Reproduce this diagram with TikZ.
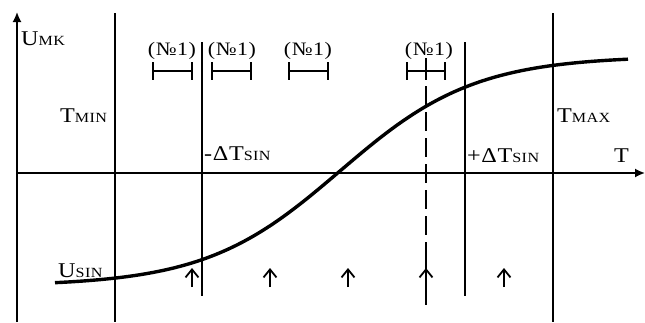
\documentclass[tikz,border=0pt]{standalone}
\usepackage{fontspec}
\setmainfont{Liberation Serif}[FakeStretch=1.15,LetterSpace=3]
\usetikzlibrary{arrows.meta}
\newcommand{\capsm}[2]{{\fontsize{21}{21}\selectfont #1}{\fontsize{14}{14}\selectfont #2}}
\begin{document}
\begin{tikzpicture}[x=1pt,y=-1pt,
  axis/.style={line width=1.7pt,-{Latex[length=10pt,width=9pt]}},
  vline/.style={line width=1.7pt},
  dline/.style={line width=1.7pt,dash pattern=on 19pt off 7pt},
  bracket/.style={line width=2.2pt},
  curve/.style={line width=3.4pt},
  uparrow/.style={line width=1.8pt,-{Straight Barb[length=8pt,width=13pt,line width=1.8pt]}},
  lbl/.style={inner sep=0pt,anchor=base west},
  numlbl/.style={inner sep=0pt,anchor=base,font=\fontsize{19}{19}\selectfont}]
\useasboundingbox (0,0) rectangle (645,322);
% axes
\coordinate (yb) at (17,322);
\coordinate (yt) at (17,12);
\coordinate (xl) at (17,173);
\coordinate (xr) at (645,173);
\draw[axis] (yb) -- (yt);
\draw[axis] (xl) -- (xr);
% vertical lines
\coordinate (tmin1) at (115,13);
\coordinate (tmin2) at (115,322);
\coordinate (dm1) at (202,42);
\coordinate (dm2) at (202,296);
\coordinate (dp1) at (465,42);
\coordinate (dp2) at (465,296);
\coordinate (tmax1) at (553,13);
\coordinate (tmax2) at (553,322);
\draw[vline] (tmin1) -- (tmin2);
\draw[vline] (dm1) -- (dm2);
\draw[vline] (dp1) -- (dp2);
\draw[vline] (tmax1) -- (tmax2);
% dashed line
\coordinate (ds1) at (426,86);
\coordinate (ds2) at (426,258);
\coordinate (ds3) at (426,305);
\draw[dline] (ds1) -- (ds2);
\draw[vline] (ds2) -- (ds3);
% curve
\draw[curve] plot[domain=55:628,samples=120,smooth] (\x,{171-115*tanh((\x-340)/135)});
% brackets
\draw[bracket] (153,62) -- (153,80) (153,71) -- (192,71) (192,62) -- (192,80);
\draw[bracket] (212,62) -- (212,80) (212,71) -- (251,71) (251,62) -- (251,80);
\draw[bracket] (289,62) -- (289,80) (289,71) -- (328,71) (328,62) -- (328,80);
\draw[bracket] (407,62) -- (407,80) (407,71) -- (445,71) (445,62) -- (445,80);
\draw[bracket] (426,58) -- (426,80);
% bracket labels
\node[numlbl] (n1) at (172,55) {(№1)};
\node[numlbl] (n2) at (232,55) {(№1)};
\node[numlbl] (n3) at (308,55) {(№1)};
\node[numlbl] (n4) at (429,55) {(№1)};
% small arrows
\foreach \i/\xx in {1/192,2/270,3/348,4/426,5/504}{
  \coordinate (a\i b) at (\xx,287);
  \coordinate (a\i t) at (\xx,268);
  \draw[uparrow] (a\i b) -- (a\i t);
}
% texts
\node[lbl] (umk) at (21,45) {\capsm{U}{MK}};
\node[lbl] (tmin) at (60,122) {\capsm{T}{MIN}};
\node[lbl] (tmax) at (557,122) {\capsm{T}{MAX}};
\node[lbl] (dtm) at (204,160) {\capsm{-ΔT}{SIN}};
\node[lbl] (dtp) at (467,162) {\capsm{+ΔT}{SIN}};
\node[lbl] (tt) at (614,162) {\capsm{T}{}};
\node[lbl] (usin) at (58,277) {\capsm{U}{SIN}};
\end{tikzpicture}
\end{document}
